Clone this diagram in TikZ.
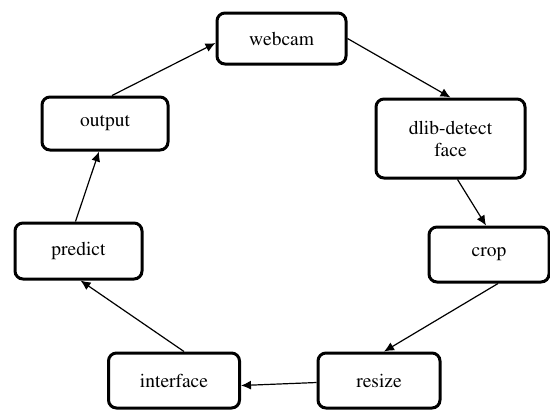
\documentclass[tikz,border=0pt]{standalone}
\usepackage[T1]{fontenc}
\renewcommand{\rmdefault}{ptm}
\usetikzlibrary{arrows.meta}
\begin{document}
\begin{tikzpicture}[x=0.5pt,y=-0.5pt,
        stepbox/.style={draw, line width=1.5pt, rounded corners=4pt, align=center,
            inner sep=0pt, font=\rmfamily\fontsize{9.75}{11}\selectfont},
        flow/.style={-{Latex[length=5pt,width=4.5pt]}, line width=0.6pt}]
                \useasboundingbox (0,0) rectangle (550,409) ;
                \node[stepbox, minimum width=64.5pt, minimum height=25.5pt] (webcam) at (281.5,38.5) {webcam} ;
                \node[stepbox, minimum width=74.5pt, minimum height=39.5pt] (dlib) at (450.5,138.5) {dlib-detect\\face} ;
                \node[stepbox, minimum width=60pt, minimum height=27.5pt] (crop) at (489,254.5) {crop} ;
                \node[stepbox, minimum width=61pt, minimum height=27.5pt] (resize) at (379,380.5) {resize} ;
                \node[stepbox, minimum width=65.5pt, minimum height=27.5pt] (interface) at (174,380.5) {interface} ;
                \node[stepbox, minimum width=63.5pt, minimum height=28pt] (predict) at (78.5,251) {predict} ;
                \node[stepbox, minimum width=63pt, minimum height=26.5pt] (output) at (105,123.5) {output} ;
                \draw[flow] (webcam.east) -- (dlib.north) ;
                \draw[flow] ([xshift=3.5pt]dlib.south) -- ([xshift=-1.5pt]crop.north) ;
                \draw[flow] ([xshift=4.5pt]crop.south) -- ([xshift=2.5pt]resize.north) ;
                \draw[flow] ([yshift=-1pt]resize.west) -- ([yshift=-2.5pt]interface.east) ;
                \draw[flow] ([xshift=5pt]interface.north) -- ([xshift=1pt]predict.south) ;
                \draw[flow] ([xshift=-1.5pt]predict.north) -- ([xshift=-3pt]output.south) ;
                \draw[flow] ([xshift=3.5pt]output.north) -- ([yshift=-2.25pt]webcam.west) ;
            \end{tikzpicture}
\end{document}
